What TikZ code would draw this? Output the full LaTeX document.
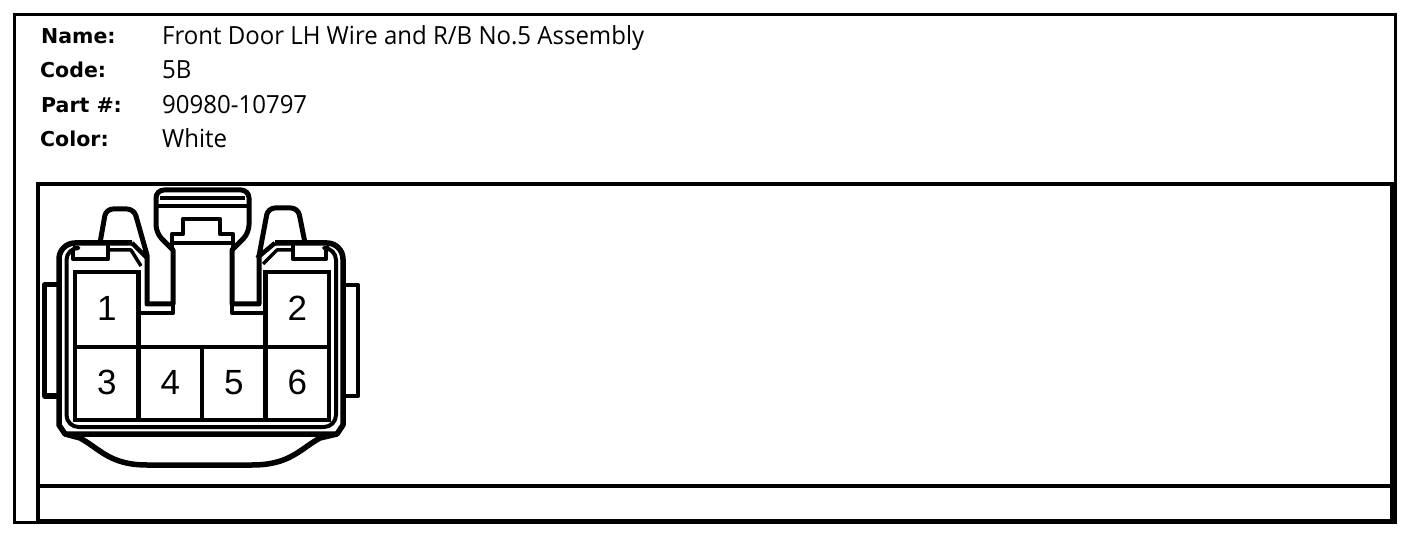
\documentclass[tikz,border=0pt]{standalone}
\usepackage{fontspec}
\setmainfont[FakeStretch=0.96]{Open Sans}
\newfontfamily\rotulofont{DejaVu Sans}
\newfontfamily\digitofont{Liberation Sans}
\usetikzlibrary{positioning}

\begin{document}
\begin{tikzpicture}[x=1pt,y=-1pt]
\tikzset{
    marco/.style={draw=black, line width=4.5pt},
    pieza/.style={draw=black, line width=4.5pt, line join=round},
    fina/.style={draw=black, line width=3.5pt, line join=round},
    celda/.style={rectangle, draw=black, line width=4.5pt, outer sep=0pt, inner sep=0pt,
                  minimum width=63.5pt, minimum height=73pt, text centered, text depth=2pt,
                  font=\fontsize{35}{40}\digitofont},
    rotulo/.style={anchor=base west, inner sep=0pt, font=\fontsize{20.5}{24}\rotulofont\bfseries},
    valor/.style={anchor=base west, inner sep=0pt, font=\fontsize{25}{28}\selectfont}
}
\useasboundingbox (0,0) rectangle (1408,534);
\fill[white] (0,0) rectangle (1408,534);

% marcos
\draw[marco, line width=3pt] (14,15) rectangle (1395,522);
\draw[marco] (38,184) rectangle (1392,521);
\draw[marco] (38,486) -- (1392,486);

% textos
\node[rotulo] (nname) at (41,43.5) {Name:};
\node[rotulo] (ncode) at (40,78) {Code:};
\node[rotulo] (npart) at (41,112.5) {Part \#:};
\node[rotulo] (ncolor) at (40,146.5) {Color:};
\node[valor] (vname) at (162,45) {Front Door LH Wire and R/B No.5 Assembly};
\node[valor] (vcode) at (162,79) {5B};
\node[valor] (vpart) at (162,114) {90980-10797};
\node[valor] (vcolor) at (162,148) {White};

% cavidades
\node[celda] (c3) at (106.75,383.5) {3};
\node[celda,right=0pt of c3] (c4) {4};
\node[celda,right=0pt of c4] (c5) {5};
\node[celda,right=0pt of c5] (c6) {6};
\node[celda,above=0pt of c3,minimum height=75pt] (c1) {1};
\node[celda,above=0pt of c6,minimum height=75pt] (c2) {2};

% cuerpo
\draw[pieza, line width=5.5pt] (132,243) [rounded corners=16] -- (59,243) -- (59,400) [sharp corners] -- (59,425) -- (65,434)
    -- (337,434) -- (343,425) [rounded corners=16] -- (343,243) -- (275,243);
\draw[fina, line width=4pt, rounded corners=12] (73,248) -- (66.5,248) -- (66.5,427) -- (336,427) -- (336,248) -- (329,248);
\draw[pieza, line width=5.5pt] (65,434) -- (80,438) .. controls (100,449) and (110,465) .. (147,465) -- (252,465)
    .. controls (290,465) and (300,449) .. (320,438) -- (337,434);

% pestanas laterales
\draw[pieza, line width=5pt] (59,285) -- (44.5,285) -- (44.5,396) -- (59,396);
\draw[pieza] (343,285) -- (358,285) -- (358,396) -- (343,396);

% traba central y pestanas
\draw[pieza, line width=5pt] (100,243) [rounded corners=7] -- (106,209) -- (134,209) [sharp corners] -- (147,255)
    -- (147,304) -- (173,304) -- (173,250) [rounded corners=8] -- (156,233) -- (156,190) -- (249,190)
    -- (249,233) [sharp corners] -- (232,250) -- (232,304) -- (259,304) -- (259,256)
    [rounded corners=7] -- (268,208) -- (298,208) [sharp corners] -- (305,243);
\draw[pieza] (138,313) -- (173,313) -- (173,304);
\draw[pieza] (265,313) -- (232,313) -- (232,304);
\draw[fina] (160,198) -- (245,198);
\draw[pieza] (158,206) -- (247,206);
\draw[pieza] (172,250) -- (172,234) -- (183,234) -- (183,219) -- (220,219) -- (220,234) -- (233,234) -- (233,250);
\draw[pieza] (172,243) -- (233,243);

% topes
\draw[pieza] (73,248) -- (73,259) -- (108,259) -- (108,243);
\draw[pieza] (293,243) -- (293,259) -- (326,259) -- (326,248);
\draw[fina] (108,250) -- (131,250) -- (141,266);
\draw[pieza] (132,243) -- (147,258);
\draw[fina] (293,250) -- (277,250) -- (263,264);
\draw[pieza] (275,243) -- (257,258);
\end{tikzpicture}
\end{document}
